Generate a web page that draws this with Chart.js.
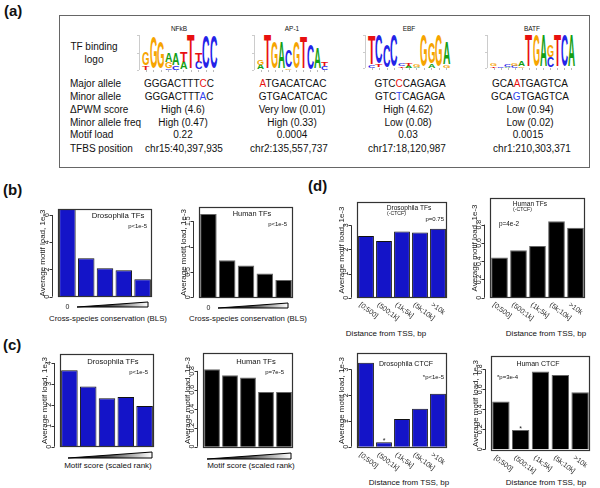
<!DOCTYPE html>
<html><head><meta charset="utf-8">
<script src="https://cdn.jsdelivr.net/npm/chart.js@4.4.1/dist/chart.umd.min.js"></script>
<style>
html,body{margin:0;padding:0;background:#fff;}
#root{position:relative;width:600px;height:488px;overflow:hidden;font-family:"Liberation Sans",Arial,Helvetica,sans-serif;color:#111;}
.t{position:absolute;white-space:nowrap;line-height:1;}
canvas{position:absolute;}
</style></head><body><div id="root"></div>
<script>
// ---------------- data ----------------
const quintiles = ['q1','q2','q3','q4','q5'];
const distCats = ['[0;500]','(500;1k]','(1k;5k]','(5k;10k]','>10k'];
const blsDroso   = [6.45, 2.82, 2.08, 1.95, 1.28];
const blsHuman   = [1.64, 0.73, 0.625, 0.47, 0.34];
const scoreDroso = [3.65, 2.88, 2.32, 2.37, 1.94];
const scoreHuman = [0.817, 0.755, 0.73, 0.578, 0.578];
const tssDroso   = [2.56, 2.35, 2.75, 2.71, 2.86];
const tssHuman   = [0.44, 0.52, 0.565, 0.838, 0.765];
const ctcfDroso  = [3.26, 0.17, 1.08, 1.47, 2.06];
const ctcfHuman  = [0.477, 0.193, 0.777, 0.743, 0.57];
const ticksBlsDroso = [0, 2, 4, 6];
const ticksBlsHuman = [0, 0.5, 1, 1.5];
const ticksScoreDroso = [0, 1, 2, 3, 4];
const ticksHuman = [0, 0.2, 0.4, 0.6, 0.8];
const ticksTssDroso = [0, 1, 2, 3];

const tfNames = ['NFkB', 'AP-1', 'EBF', 'BATF'];
const majorAllele = [['GGGACTTT','C','C'], ['','A','TGACATCAC'], ['GTC','C','CAGAGA'], ['GCA','A','TGAGTCA']];
const minorAllele = [['GGGACTTT','A','C'], ['GTGACATCAC','',''], ['GTC','T','CAGAGA'], ['GCA','G','TGAGTCA']];
const dPwm = ['High (4.6)', 'Very low (0.01)', 'High (4.62)', 'Low (0.94)'];
const minorFreq = ['High (0.47)', 'High (0.33)', 'Low (0.08)', 'Low (0.02)'];
const motifLoad = ['0.22', '0.0004', '0.03', '0.0015'];
const tfbsPos = ['chr15:40,397,935', 'chr2:135,557,737', 'chr17:18,120,987', 'chr1:210,303,371'];
// sequence logos: per column, letters bottom-to-top with relative height
const logoNFkB = ['T.12 G.38','G.89','G.76','C.05 G.17 A.28','C.10 A.35','A.22 T.30','T1','C.22 T.28','C.95','C.95'];
const logoAP1  = ['A.13 G.16','T1','G.76','A.74','G.04 C.50','G.74','T.9','C.72','A.62','C.1 T.1'];
const logoEBF  = ['C.06 T.9','T.08 C.88','C.7','C.95','T.05 C.06','A.06 T.06','A.04 G.06','G.95','A.1 G.62','G.95','G.07 A.68'];
const logoBATF = ['T.04 G.08','C.03','A.03 C.06','C.06 G.06','G.05 A.16','T.98','G.98','A.98','C.3 G.36','T.98','C.98','A.98'];

// ---------------- helpers ----------------
const FONT = '"Liberation Sans", Arial, Helvetica, sans-serif';
const root = document.getElementById('root');
function txt(s, x, y, o = {}) {
  const d = document.createElement('div');
  d.className = 't';
  if (o.html) d.innerHTML = s; else d.textContent = s;
  d.style.left = x + 'px'; d.style.top = y + 'px';
  d.style.fontSize = (o.size || 10) + 'px';
  if (o.bold) d.style.fontWeight = 'bold';
  d.style.color = o.color || '#111';
  const ax = {l: '0', c: '-50%', r: '-100%'}[o.anchor || 'c'];
  d.style.transform = `translate(${ax},-50%)`;
  root.appendChild(d);
  return d;
}
const LW = {A: 7.22, C: 7.22, G: 7.78, T: 6.11};
const LC = {A: '#14a014', C: '#2323e8', G: '#f6a400', T: '#e81010'};
function drawLogo(cols, x, top, base, w) {
  const cw = w / cols.length, H = base - top;
  const ax = document.createElement('div');
  ax.style.cssText = `position:absolute;left:${x-3}px;top:${top}px;width:1px;height:${H}px;background:#ccc;`;
  root.appendChild(ax);
  [0, 0.5, 1].forEach(f => {
    const tk = document.createElement('div');
    tk.style.cssText = `position:absolute;left:${x-5}px;top:${base - f*H}px;width:2px;height:1px;background:#ccc;`;
    root.appendChild(tk);
  });
  cols.forEach((col, i) => {
    const tk = document.createElement('div');
    tk.style.cssText = `position:absolute;left:${x+(i+0.5)*cw}px;top:${base}px;width:1px;height:2px;background:#bbb;`;
    root.appendChild(tk);
    let y = base;
    col.split(' ').forEach(tok => {
      const L = tok[0], f = parseFloat(tok.slice(1));
      const h = f * H; y -= h;
      const d = document.createElement('div');
      d.style.cssText = `position:absolute;left:${x+i*cw}px;top:${y}px;width:${cw}px;height:${h}px;`;
      const s = document.createElement('span');
      s.textContent = L;
      s.style.cssText = `position:absolute;left:0;top:0;font:bold 10px/10px ${FONT};color:${LC[L]};transform-origin:0 0;transform:scale(${cw/LW[L]},${h/7.16}) translateY(-1.3px);`;
      d.appendChild(s); root.appendChild(d);
    });
  });
}
function seqHtml(p) {
  return p[0] + (p[1] ? `<span style="color:COL">${p[1]}</span>` : '') + p[2];
}

// ---------------- panel (a) ----------------
txt('(a)', 4, 10, {bold: true, size: 15, anchor: 'l'});
const box = document.createElement('div');
box.style.cssText = 'position:absolute;left:59px;top:15px;width:529px;height:151px;border:1px solid #666;';
root.appendChild(box);
txt('TF binding', 94, 47, {size: 10});
txt('logo', 94, 60, {size: 10});
const rowY = [84, 97, 110, 123, 135, 149];
['Major allele', 'Minor allele', '\u0394PWM score', 'Minor allele freq', 'Motif load', 'TFBS position']
  .forEach((s, i) => txt(s, 70, rowY[i], {anchor: 'l', size: 10}));
const nameX = [179, 292, 409, 532];
const seqX = [179, 293, 410, 530];
const valX = [183, 292, 408, 530];
const posX = [184, 289, 407, 532];
tfNames.forEach((n, i) => txt(n, nameX[i], 29, {size: 6.5}));
majorAllele.forEach((p, i) => txt(seqHtml(p).replace('COL', '#e81010'), seqX[i], rowY[0], {html: true}));
minorAllele.forEach((p, i) => txt(seqHtml(p).replace('COL', '#3344ee'), seqX[i], rowY[1], {html: true}));
dPwm.forEach((s, i) => txt(s, valX[i], rowY[2]));
minorFreq.forEach((s, i) => txt(s, valX[i], rowY[3]));
motifLoad.forEach((s, i) => txt(s, valX[i] - (i === 3 ? 2 : 0), rowY[4]));
tfbsPos.forEach((s, i) => txt(s, posX[i], rowY[5]));
drawLogo(logoNFkB, 142, 35, 70, 75);
drawLogo(logoAP1, 257, 35, 70, 71);
drawLogo(logoEBF, 368, 35, 68, 82);
drawLogo(logoBATF, 490, 35, 68, 85);

// ---------------- panel labels & titles ----------------
txt('(b)', 3, 189, {bold: true, size: 15, anchor: 'l'});
txt('(c)', 3, 344, {bold: true, size: 15, anchor: 'l'});
txt('(d)', 308, 185, {bold: true, size: 15, anchor: 'l'});
txt('Cross-species conservation (BLS)', 108, 319, {size: 7.8});
txt('Cross-species conservation (BLS)', 248, 319, {size: 7.8});
txt('Motif score (scaled rank)', 108, 466, {size: 8});
txt('Motif score (scaled rank)', 251, 466, {size: 8});
txt('Distance from TSS, bp', 386, 334, {size: 8});
txt('Distance from TSS, bp', 546, 334, {size: 8});
txt('Distance from TSS, bp', 409, 483, {size: 8});
txt('Distance from TSS, bp', 546, 483, {size: 8});

// ---------------- charts ----------------
const blue = '#1414c8';

function framePlugin(spec) {
  return {
    id: 'frame',
    afterDraw(chart) {
      const ctx = chart.ctx, ca = chart.chartArea, ys = chart.scales.y, xs = chart.scales.x;
      ctx.save();
      ctx.strokeStyle = '#333'; ctx.lineWidth = 1.2;
      ctx.strokeRect(ca.left + 0.5, ca.top + 0.5, ca.right - ca.left - 1, ca.bottom - ca.top - 1);
      // R-style detached y axis: line, ticks and rotated labels placed by the y scale
      ctx.lineWidth = 1; ctx.strokeStyle = '#333';
      const ax = Math.round(ca.left - 6) + 0.5;
      const t = spec.ticks;
      ctx.beginPath();
      ctx.moveTo(ax, ys.getPixelForValue(t[0])); ctx.lineTo(ax, ys.getPixelForValue(t[t.length - 1]));
      t.forEach(v => { const y = Math.round(ys.getPixelForValue(v)) + 0.5; ctx.moveTo(ax, y); ctx.lineTo(ax - 3, y); });
      ctx.stroke();
      ctx.fillStyle = '#111'; ctx.font = '7px ' + FONT; ctx.textAlign = 'center'; ctx.textBaseline = 'middle';
      t.forEach(v => {
        ctx.save();
        ctx.translate(ca.left - 10.5, ys.getPixelForValue(v));
        ctx.rotate(-Math.PI / 2);
        ctx.fillText(String(v), 0, 0);
        ctx.restore();
      });
      if (spec.wedge) {
        const w = spec.wedge;
        const l = ca.left + w[0], r = ca.right - w[1], b = ca.bottom + w[2], tp = b - w[3];
        const g = ctx.createLinearGradient(l, 0, r, 0);
        g.addColorStop(0, '#000'); g.addColorStop(0.45, '#444'); g.addColorStop(1, '#fff');
        ctx.beginPath(); ctx.moveTo(l, b); ctx.lineTo(r, b); ctx.lineTo(r, tp); ctx.closePath();
        ctx.fillStyle = g; ctx.fill();
        ctx.strokeStyle = '#000'; ctx.lineWidth = 1; ctx.stroke();
      }
      if (spec.zero) {
        ctx.fillStyle = '#222'; ctx.font = '7px ' + FONT; ctx.textAlign = 'center'; ctx.textBaseline = 'middle';
        ctx.fillText('0', xs.getPixelForValue(0), ca.bottom + 10);
      }
      if (spec.rot) {
        ctx.fillStyle = '#222'; ctx.font = '7px ' + FONT; ctx.textAlign = 'left'; ctx.textBaseline = 'middle';
        chart.data.labels.forEach((lab, i) => {
          ctx.save();
          ctx.translate(xs.getPixelForValue(i) - 6, ca.bottom + 6);
          ctx.rotate(37 * Math.PI / 180);
          ctx.fillText(lab, 0, 0);
          ctx.restore();
        });
      }
      if (spec.star !== undefined) {
        const i = spec.star;
        ctx.fillStyle = '#222'; ctx.font = '7px ' + FONT; ctx.textAlign = 'center'; ctx.textBaseline = 'alphabetic';
        ctx.fillText('*', xs.getPixelForValue(i), ys.getPixelForValue(chart.data.datasets[0].data[i]) + 1);
      }
      ctx.restore();
    }
  };
}

function makeChart(spec) {
  const padT = 2, padR = 2, padB = 34, sw = 20;
  const b = spec.box;
  const cv = document.createElement('canvas');
  const W = b[2] - b[0] + sw + padR, H = b[3] - b[1] + padT + padB;
  cv.width = W; cv.height = H;
  cv.style.left = (b[0] - sw) + 'px'; cv.style.top = (b[1] - padT) + 'px';
  cv.style.width = W + 'px'; cv.style.height = H + 'px';
  root.appendChild(cv);
  new Chart(cv, {
    type: 'bar',
    data: {labels: spec.labels, datasets: [{data: spec.values, backgroundColor: spec.color, borderColor: spec.border,
      borderWidth: 1, categoryPercentage: 1, barPercentage: 0.88}]},
    options: {
      responsive: false, animation: false, devicePixelRatio: 1,
      layout: {padding: {left: 0, top: padT, right: padR, bottom: padB}},
      plugins: {legend: {display: false}, tooltip: {enabled: false}},
      scales: {
        x: {display: false},
        y: {
          min: spec.min, max: spec.max,
          afterBuildTicks: s => { s.ticks = spec.ticks.map(v => ({value: v})); },
          afterFit: s => { s.width = sw; },
          grid: {display: false, drawTicks: false}, border: {display: false},
          ticks: {display: false},
          title: {display: true, text: 'Average motif load, 1e-3', padding: 0, color: '#222', font: {size: 8, family: FONT}}
        }
      }
    },
    plugins: [framePlugin(spec)]
  });
}

const specs = [
  {box: [58, 209, 152, 297], labels: quintiles, values: blsDroso, color: blue, border: '#111', min: -0.022, max: 6.44, ticks: ticksBlsDroso, wedge: [19, 4, 10, 5], zero: true},
  {box: [199, 207, 293, 298], labels: quintiles, values: blsHuman, color: '#000', border: '#666', min: -0.014, max: 1.78, ticks: ticksBlsHuman, wedge: [19, 5, 10, 5], zero: true},
  {box: [60, 354, 154, 447], labels: quintiles, values: scoreDroso, color: blue, border: '#111', min: -0.014, max: 4.43, ticks: ticksScoreDroso, wedge: [8, 2, 11, 6]},
  {box: [203, 353, 293, 448], labels: quintiles, values: scoreHuman, color: '#000', border: '#666', min: -0.014, max: 0.989, ticks: ticksHuman, wedge: [4, 2, 11, 6]},
  {box: [357, 202, 447, 298], labels: distCats, values: tssDroso, color: blue, border: '#111', min: -0.012, max: 3.97, ticks: ticksTssDroso, rot: true},
  {box: [490, 198, 585, 298], labels: distCats, values: tssHuman, color: '#000', border: '#666', min: -0.003, max: 1.091, ticks: ticksHuman, rot: true},
  {box: [357, 353, 447, 448], labels: distCats, values: ctcfDroso, color: blue, border: '#111', min: -0.05, max: 3.64, ticks: ticksTssDroso, rot: true, star: 1},
  {box: [491, 356, 590, 451], labels: distCats, values: ctcfHuman, color: '#000', border: '#666', min: -0.017, max: 0.933, ticks: ticksHuman, rot: true, star: 1}
];
specs.forEach(makeChart);

// ---------------- in-plot annotations ----------------
txt('Drosophila TFs', 118, 216, {size: 7.8});
txt('p&lt;1e-5', 147, 226, {size: 6, anchor: 'r', html: true});
txt('Human TFs', 252, 214, {size: 7.4});
txt('p&lt;1e-5', 287, 224, {size: 6, anchor: 'r', html: true});
txt('Drosophila TFs', 113, 362, {size: 7.6});
txt('p&lt;1e-5', 148, 372, {size: 6, anchor: 'r', html: true});
txt('Human TFs', 256, 362, {size: 7.6});
txt('p=7e-5', 284, 372, {size: 6, anchor: 'r'});
txt('Drosophila TFs', 409, 208, {size: 6.6});
txt('(-CTCF)', 387, 214, {size: 5.2, anchor: 'l'});
txt('p=0.75', 444, 219, {size: 6, anchor: 'r'});
txt('Human TFs', 530, 204, {size: 6.6});
txt('(-CTCF)', 513, 210, {size: 5.2, anchor: 'l'});
txt('p=4e-2', 499, 224, {size: 6.4, anchor: 'l'});
txt('Drosophila CTCF', 406, 363, {size: 7});
txt('*p&lt;1e-5', 444, 377, {size: 6, anchor: 'r', html: true});
txt('Human CTCF', 538, 363, {size: 7});
txt('*p=3e-4', 497, 377, {size: 6, anchor: 'l'});
</script></body></html>
